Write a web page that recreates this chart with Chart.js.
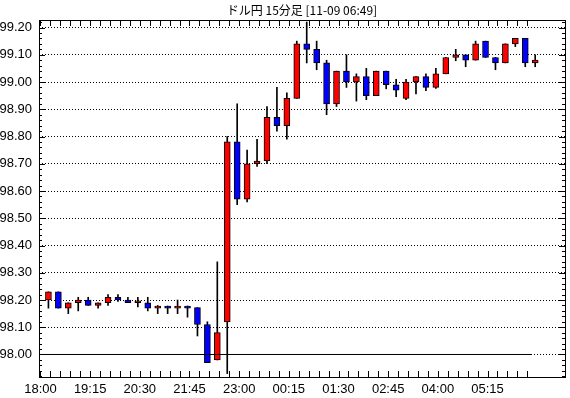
<!DOCTYPE html>
<html>
<head>
<meta charset="utf-8">
<script src="https://cdn.jsdelivr.net/npm/chart.js@4.4.0/dist/chart.umd.min.js"></script>
<style>
html, body { margin: 0; padding: 0; background: #fff; }
canvas { display: block; }
</style>
</head>
<body>
<canvas id="chart" width="570" height="398"></canvas>
<script>
const title = 'ドル円 15分足 [11-09 06:49]';

// 15 minute candles, 18:00 -> 06:15
const opens  = [98.20, 98.23, 98.17, 98.19, 98.20, 98.18, 98.19, 98.21, 98.20, 98.19,
                98.19, 98.17, 98.178, 98.17, 98.178, 98.172, 98.11, 97.98, 98.12, 98.78,
                98.57, 98.70, 98.71, 98.87, 98.84, 98.94, 99.14, 99.12, 99.07, 98.92,
                99.04, 99.00, 99.02, 98.95, 99.04, 98.99, 98.94, 99.00, 99.02, 98.98,
                99.03, 99.09, 99.10, 99.08, 99.15, 99.09, 99.07, 99.14, 99.16, 99.07];
const highs  = [98.23, 98.23, 98.19, 98.21, 98.21, 98.19, 98.22, 98.22, 98.21, 98.21,
                98.21, 98.18, 98.178, 98.20, 98.178, 98.172, 98.12, 98.34, 98.80, 98.92,
                98.75, 98.79, 98.91, 98.98, 98.96, 99.15, 99.22, 99.15, 99.08, 99.04,
                99.10, 99.03, 99.05, 99.04, 99.04, 99.01, 99.01, 99.02, 99.03, 99.05,
                99.09, 99.12, 99.10, 99.15, 99.15, 99.09, 99.14, 99.16, 99.16, 99.10];
const lows   = [98.17, 98.17, 98.15, 98.16, 98.18, 98.17, 98.18, 98.195, 98.19, 98.175,
                98.16, 98.15, 98.15, 98.15, 98.137, 98.068, 97.97, 97.98, 97.93, 98.55,
                98.56, 98.69, 98.70, 98.82, 98.79, 98.94, 99.07, 99.045, 98.88, 98.91,
                98.98, 98.93, 98.935, 98.95, 98.975, 98.946, 98.935, 98.956, 98.968, 98.976,
                99.03, 99.078, 99.056, 99.08, 99.09, 99.045, 99.07, 99.13, 99.056, 99.056];
const closes = [98.23, 98.17, 98.19, 98.20, 98.18, 98.19, 98.21, 98.20, 98.19, 98.19,
                98.17, 98.178, 98.17, 98.178, 98.17, 98.11, 97.97, 98.08, 98.78, 98.57,
                98.70, 98.71, 98.87, 98.84, 98.94, 99.14, 99.12, 99.07, 98.92, 99.04,
                99.00, 99.02, 98.95, 99.04, 98.99, 98.97, 99.00, 99.02, 98.98, 99.03,
                99.09, 99.10, 99.08, 99.14, 99.09, 99.07, 99.14, 99.16, 99.07, 99.08];

const timeLabels = ['18:00', '19:15', '20:30', '21:45', '23:00', '00:15', '01:30', '02:45', '04:00', '05:15'];
const labelEvery = 5;
const yLabels = [98.00, 98.10, 98.20, 98.30, 98.40, 98.50, 98.60, 98.70, 98.80, 98.90, 99.00, 99.10, 99.20];
const refLevel = 98.00;

const tickShift = -0.8;   // time ticks sit a bit left of the candles
const xMin = -0.95, xMax = 52;
const yMin = 97.91743, yMax = 99.22753;

const UP = '#ff0000', DOWN = '#0000ff';
const tickFont = { family: '"Liberation Sans Narrow", "Liberation Sans", sans-serif', size: 13 };

const bodies = opens.map((o, i) => ({ x: i, y: [o, closes[i]] }));
const wicks = lows.map((l, i) => ({ x: i, y: [l, highs[i]] }));
const bodyColors = opens.map((o, i) => closes[i] >= o ? UP : DOWN);
const refData = [{ x: xMin, y: refLevel }, { x: opens.length - 1 - 0.4, y: refLevel }];

// frame + inward tick marks like the original chart
const frameTicks = {
    id: 'frameTicks',
    afterDraw(chart) {
        const { ctx, chartArea: a, scales: { x, y } } = chart;
        ctx.save();
        ctx.strokeStyle = '#000';
        ctx.lineWidth = 1;
        ctx.beginPath();
        for (let k = 0; k < opens.length; k++) {
            const px = Math.round(x.getPixelForValue(k + tickShift)) + 0.5;
            ctx.moveTo(px, a.top); ctx.lineTo(px, a.top + 6);
            ctx.moveTo(px, a.bottom); ctx.lineTo(px, a.bottom - 6);
        }
        for (let n = Math.ceil(yMin * 50); n <= Math.floor(yMax * 50); n++) {
            const py = Math.round(y.getPixelForValue(n / 50)) + 0.5;
            const len = n % 5 === 0 ? 6 : 3;
            ctx.moveTo(a.left, py); ctx.lineTo(a.left + len, py);
            ctx.moveTo(a.right, py); ctx.lineTo(a.right - len, py);
        }
        ctx.stroke();
        ctx.strokeRect(Math.round(a.left) + 0.5, Math.round(a.top) + 0.5,
            Math.round(a.right - a.left), Math.round(a.bottom - a.top));
        ctx.restore();
    }
};

new Chart(document.getElementById('chart'), {
    type: 'bar',
    data: {
        datasets: [
            { type: 'line', data: refData, borderColor: '#000', borderWidth: 1, pointRadius: 0, order: 0 },
            { data: bodies, backgroundColor: bodyColors, borderColor: '#000', borderWidth: 1,
              borderSkipped: false, barThickness: 6, minBarLength: 2, grouped: false, order: 1 },
            { data: wicks, backgroundColor: '#000', borderWidth: 0, barThickness: 1, grouped: false, order: 2 }
        ]
    },
    options: {
        responsive: false,
        animation: false,
        devicePixelRatio: 1,
        layout: { padding: { left: 0, right: 5, top: 0, bottom: 0 } },
        plugins: {
            legend: { display: false },
            tooltip: { enabled: false },
            title: {
                display: true, text: title, color: '#000', fullSize: false,
                font: { family: '"Noto Sans CJK JP", sans-serif', size: 12, weight: 'normal' },
                padding: { top: 3, bottom: 2.6 }
            }
        },
        scales: {
            x: {
                type: 'linear', min: xMin, max: xMax, offset: false,
                grid: { display: false }, border: { display: false },
                afterBuildTicks: s => { s.ticks = timeLabels.map((_, m) => ({ value: m * labelEvery + tickShift })); },
                afterFit: s => { s.height = 21; },
                ticks: { callback: (v, i) => timeLabels[i], color: '#000', font: tickFont,
                         padding: -3, maxRotation: 0, autoSkip: false }
            },
            y: {
                min: yMin, max: yMax,
                afterBuildTicks: s => { s.ticks = yLabels.map(v => ({ value: v })); },
                afterFit: s => { s.width = 39; },
                grid: { color: '#000', drawTicks: false },
                border: { display: false, dash: [1, 2] },
                ticks: { callback: v => v.toFixed(2), color: '#000', font: tickFont, padding: 7 }
            }
        }
    },
    plugins: [frameTicks]
});
</script>
</body>
</html>
